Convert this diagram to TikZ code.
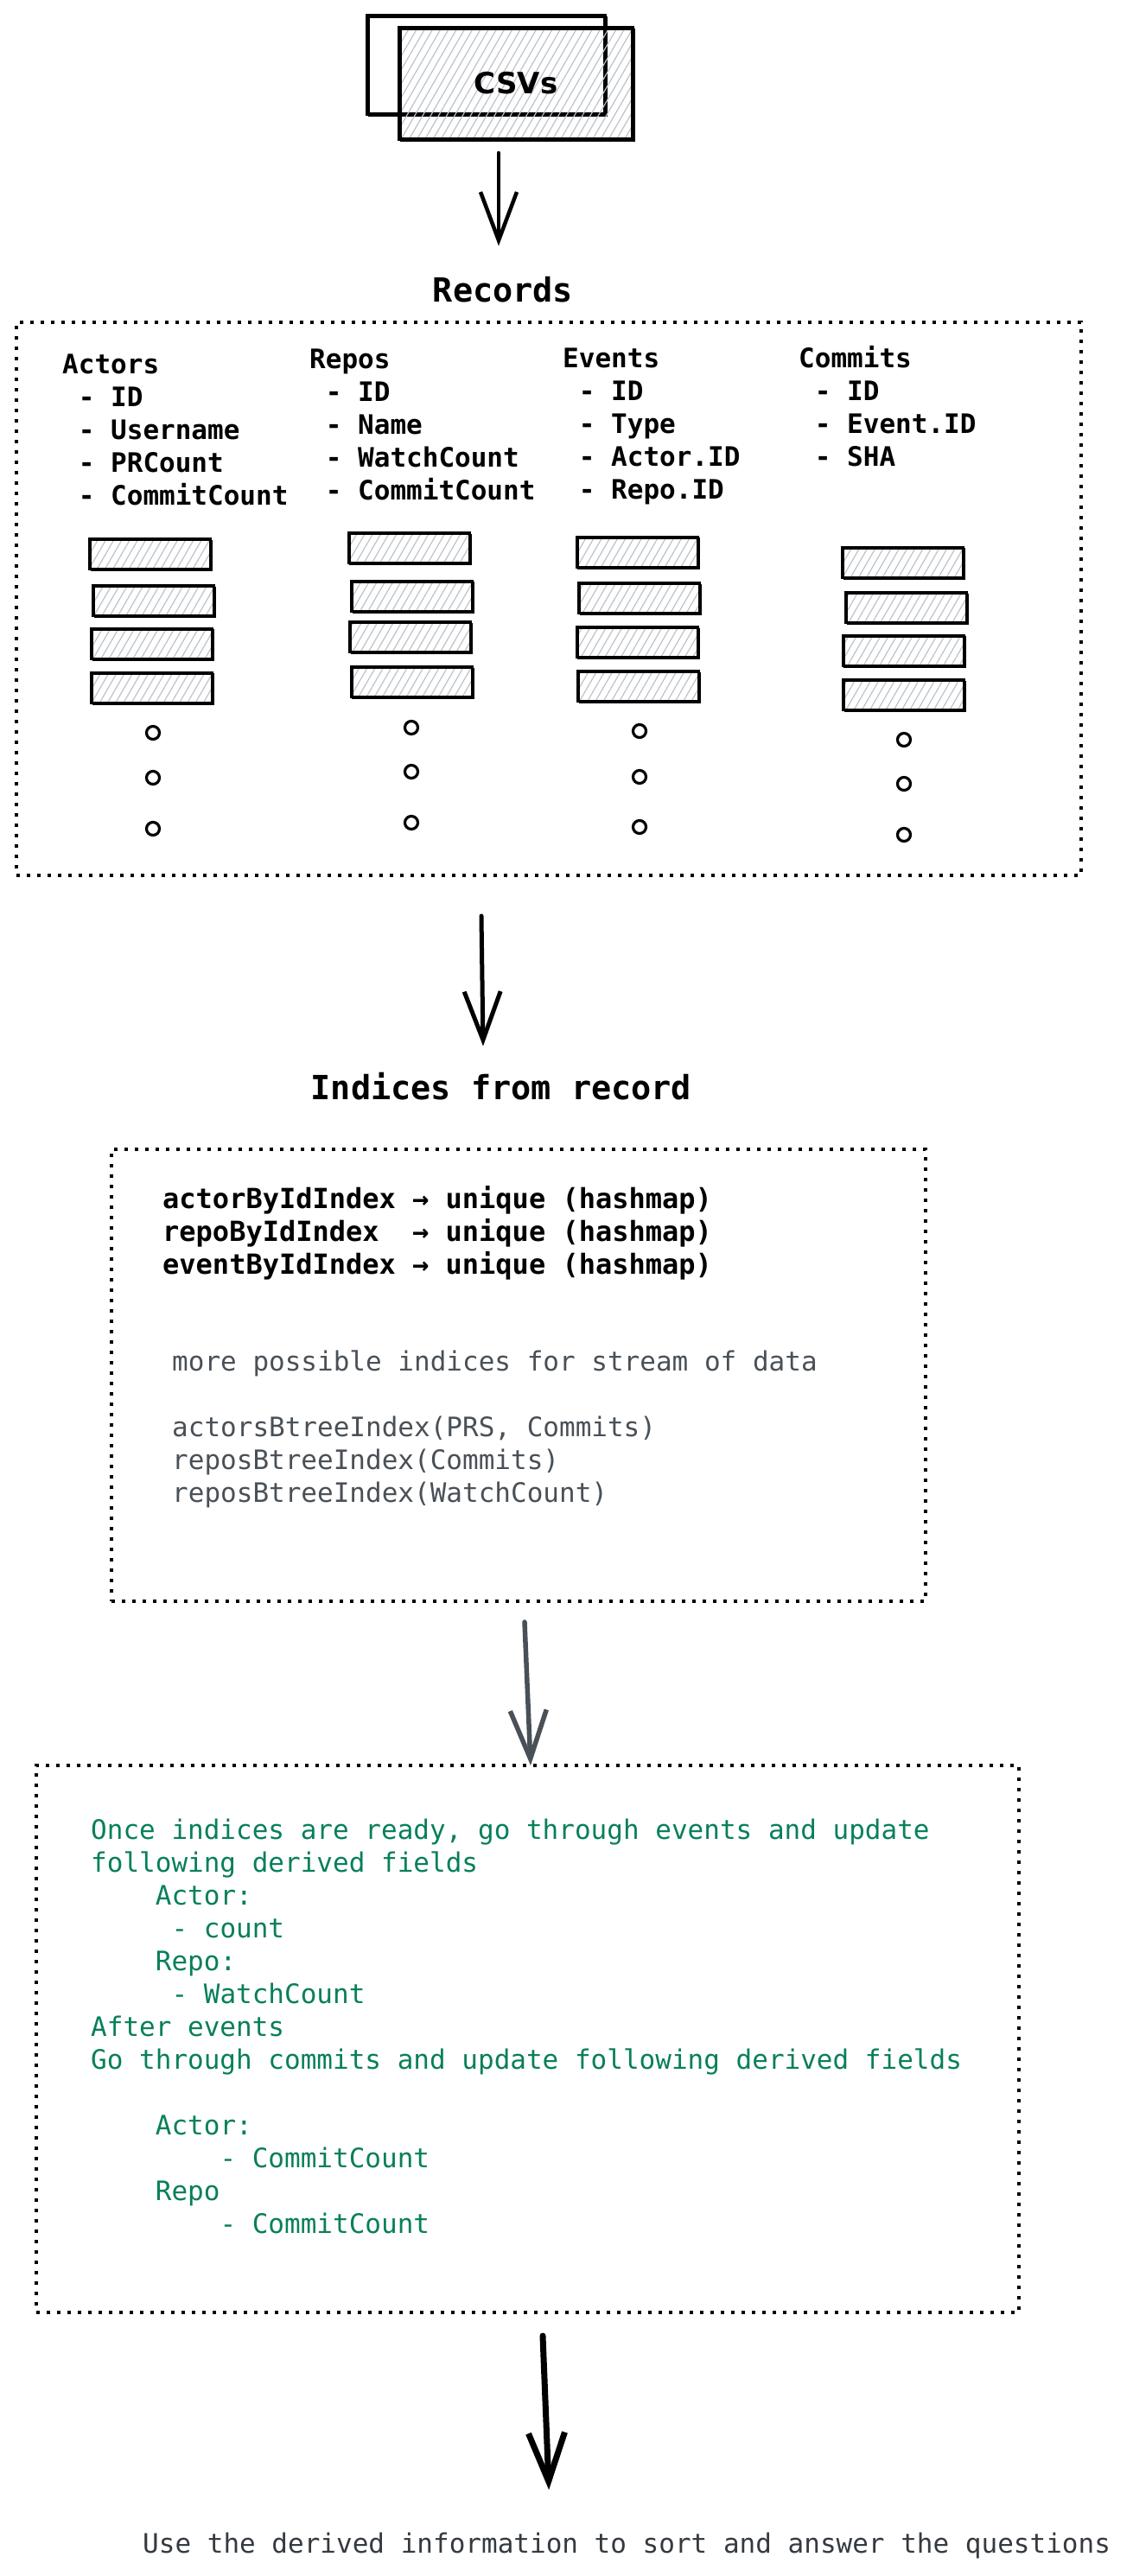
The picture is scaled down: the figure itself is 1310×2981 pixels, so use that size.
\documentclass[tikz,border=0pt]{standalone}
\usepackage{fontspec}
\setmonofont{DejaVu Sans Mono}
\newfontfamily\csvfont{DejaVu Sans}
\definecolor{mygreen}{HTML}{087F5B}
\definecolor{mygray}{HTML}{495057}
\definecolor{mydark}{HTML}{343A40}
\definecolor{myhatch}{HTML}{BCC2C9}
\usetikzlibrary{arrows.meta, patterns.meta, positioning}
\tikzset{
	sketchy/.style={
			postaction={draw, line width=1.5pt, transform canvas={shift={(2pt,-2pt)}}}
		},
	csvnode/.style={
			rectangle,
			draw=black,
			line width=3.5pt,
			inner sep=0pt,
			outer sep=0pt,
			sketchy
		},
	hatchnode/.style={
			csvnode,
			pattern={Lines[angle=60, distance=8pt, line width=1.2pt]},
			pattern color=myhatch
		},
	barnode/.style={
			hatchnode,
			line width=3pt,
			minimum width=140pt,
			minimum height=35pt
		},
	dotnode/.style={
			circle,
			draw=black,
			line width=3.2pt,
			minimum size=15pt,
			inner sep=0pt
		},
	boxnode/.style={
			rectangle,
			draw=black,
			line width=3.5pt,
			dash pattern=on 4pt off 8pt,
			inner sep=0pt,
			outer sep=0pt
		},
	titlenode/.style={
			font=\ttfamily\bfseries\fontsize{38.5}{46}\selectfont,
			inner sep=0pt,
			anchor=base
		},
	fieldnode/.style={
			font=\ttfamily\bfseries\fontsize{31}{38}\selectfont,
			align=left,
			anchor=north west,
			inner sep=0pt
		},
	indexnode/.style={
			fieldnode,
			font=\ttfamily\bfseries\fontsize{32}{38}\selectfont
		},
	graynode/.style={
			fieldnode,
			font=\ttfamily\fontsize{31}{38}\selectfont,
			text=mygray
		},
	greennode/.style={
			graynode,
			text=mygreen
		},
	endnode/.style={
			font=\ttfamily\fontsize{31}{38}\selectfont,
			text=mydark,
			inner sep=0pt,
			anchor=base west
		},
	flow/.style={
			line width=5pt,
			line cap=round,
			-{Straight Barb[length=56pt, width=42pt]}
		}
}

\begin{document}
\begin{tikzpicture}[x=1pt, y=-1pt]
\useasboundingbox (0,0) rectangle (1310,2981);

\node[csvnode, minimum width=275pt, minimum height=114pt] (csvback) at (562.5,75) {};
\node[hatchnode, minimum width=270pt, minimum height=129pt, font=\csvfont\bfseries\fontsize{34}{42}\selectfont] (csvfront) at (597,96.5) {CSVs};

\node[titlenode] (recordstitle) at (582,349) {Records};
\node[boxnode, minimum width=1232pt, minimum height=640pt] (recordsbox) at (635,693) {};

\node[fieldnode] (actors) at (72,406) {\strut Actors\\~- ID\\~- Username\\~- PRCount\\~- CommitCount};
\node[fieldnode] (repos) at (358,400) {\strut Repos\\~- ID\\~- Name\\~- WatchCount\\~- CommitCount};
\node[fieldnode] (events) at (651,398.5) {\strut Events\\~- ID\\~- Type\\~- Actor.ID\\~- Repo.ID};
\node[fieldnode] (commits) at (924,398.5) {\strut Commits\\~- ID\\~- Event.ID\\~- SHA};

\node[barnode] (act1) at (173.5,641) {};
\node[barnode] (act2) at (177.5,695) {};
\node[barnode] (act3) at (175.5,744.5) {};
\node[barnode] (act4) at (175.5,795.5) {};
\node[dotnode] (actdot1) at (177,848) {};
\node[dotnode] (actdot2) at (177,900) {};
\node[dotnode] (actdot3) at (177,959) {};

\node[barnode] (repo1) at (473,634) {};
\node[barnode] (repo2) at (476.5,689.5) {};
\node[barnode] (repo3) at (474.5,737) {};
\node[barnode] (repo4) at (476,789) {};
\node[dotnode] (repodot1) at (476,842) {};
\node[dotnode] (repodot2) at (476,893) {};
\node[dotnode] (repodot3) at (476,952) {};

\node[barnode] (event1) at (737,638.5) {};
\node[barnode] (event2) at (739.5,692) {};
\node[barnode] (event3) at (737,743) {};
\node[barnode] (event4) at (738.5,794) {};
\node[dotnode] (eventdot1) at (740,846) {};
\node[dotnode] (eventdot2) at (740,899) {};
\node[dotnode] (eventdot3) at (740,957) {};

\node[barnode] (commit1) at (1044.5,650.5) {};
\node[barnode] (commit2) at (1048.5,703) {};
\node[barnode] (commit3) at (1045,752.5) {};
\node[barnode] (commit4) at (1045.5,804) {};
\node[dotnode] (commitdot1) at (1046,856) {};
\node[dotnode] (commitdot2) at (1046,907) {};
\node[dotnode] (commitdot3) at (1046,966) {};

\node[titlenode] (indicestitle) at (580,1272) {Indices from record};
\node[boxnode, minimum width=942pt, minimum height=523pt] (indicesbox) at (600,1591.5) {};
\node[indexnode] (uniqueidx) at (188,1372) {\strut actorByIdIndex~→~unique~(hashmap)\\repoByIdIndex~~→~unique~(hashmap)\\eventByIdIndex~→~unique~(hashmap)};
\node[graynode] (moreidx) at (199,1560) {\strut more possible indices for stream of data\\ \\actorsBtreeIndex(PRS, Commits)\\reposBtreeIndex(Commits)\\reposBtreeIndex(WatchCount)};

\node[boxnode, minimum width=1137pt, minimum height=633pt] (derivedbox) at (610.5,2359.5) {};
\node[greennode] (derived) at (105,2102) {\strut Once indices are ready, go through events and update\\following derived fields\\~~~~Actor:\\~~~~~- count\\~~~~Repo:\\~~~~~- WatchCount\\After events\\Go through commits and update following derived fields\\ \\~~~~Actor:\\~~~~~~~~- CommitCount\\~~~~Repo\\~~~~~~~~- CommitCount};

\node[endnode] (answer) at (165,2954) {Use the derived information to sort and answer the questions};

\draw[flow, line width=4.5pt] ([xshift=-20pt, yshift=-16pt]csvfront.south) -- ([xshift=-5pt, yshift=35pt]recordstitle.north);
\draw[flow] ([xshift=-78pt, yshift=-47pt]recordsbox.south) -- ([xshift=-21pt, yshift=30pt]indicestitle.north);
\draw[flow, mygray, line width=5.5pt] ([xshift=7pt, yshift=-24pt]indicesbox.south) -- ([xshift=3.5pt]derivedbox.north);
\draw[flow, line width=7pt] ([xshift=17.5pt, yshift=-27pt]derivedbox.south) -- ([xshift=-90pt, yshift=49pt]answer.north);
\end{tikzpicture}
\end{document}
